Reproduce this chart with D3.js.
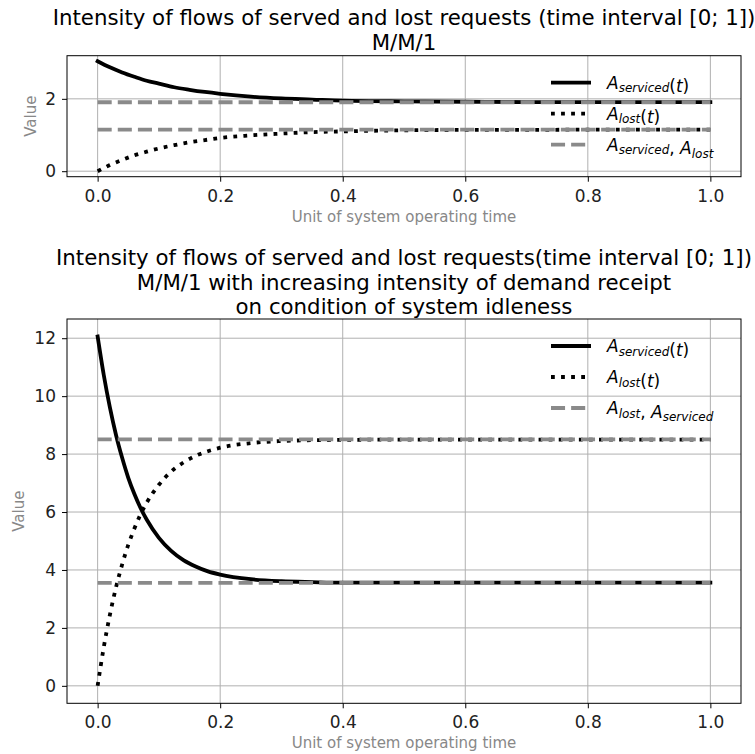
<!DOCTYPE html>
<html>
<head>
  <meta charset="utf-8">
  <title>Intensity of flows</title>
  <script src="https://cdn.jsdelivr.net/npm/d3@7"></script>
  <style>
    body { margin: 0; background: #fff; }
    svg { font-family: "DejaVu Sans", sans-serif; }
  </style>
</head>
<body>
  <div id="chart"></div>

  <script>
    // ---- data ----
    var tTop = [0, 0.02, 0.04, 0.06, 0.08, 0.1, 0.125, 0.15, 0.175, 0.2, 0.25, 0.3, 0.35, 0.4, 0.5, 0.6, 0.7, 0.8, 0.9, 1.0];
    var servedTop = [3.04, 2.87, 2.73, 2.61, 2.50, 2.42, 2.32, 2.25, 2.19, 2.14, 2.06, 2.01, 1.98, 1.95, 1.93, 1.92, 1.91, 1.91, 1.91, 1.91];
    var lostTop = [0, 0.17, 0.31, 0.44, 0.54, 0.63, 0.72, 0.80, 0.86, 0.92, 0.99, 1.04, 1.08, 1.10, 1.13, 1.14, 1.14, 1.15, 1.15, 1.15];
    var levelsTop = [1.906, 1.147];   // A_serviced, A_lost

    var tBottom = [0, 0.01, 0.02, 0.03, 0.04, 0.05, 0.06, 0.07, 0.08, 0.1, 0.12, 0.14, 0.16, 0.18, 0.2, 0.25, 0.3, 0.35, 0.4, 0.5, 0.6, 0.8, 1.0];
    var servedBottom = [12.06, 10.73, 9.61, 8.66, 7.87, 7.18, 6.62, 6.14, 5.74, 5.11, 4.66, 4.34, 4.12, 3.95, 3.84, 3.68, 3.61, 3.58, 3.56, 3.56, 3.56, 3.56, 3.56];
    var lostBottom = [0, 1.33, 2.45, 3.40, 4.19, 4.87, 5.43, 5.92, 6.32, 6.94, 7.40, 7.71, 7.94, 8.10, 8.22, 8.38, 8.45, 8.48, 8.49, 8.50, 8.50, 8.50, 8.50];
    var levelsBottom = [8.507, 3.555]; // A_lost, A_serviced

    var xTicks = [0, 0.2, 0.4, 0.6, 0.8, 1.0];
    var yTicksTop = [0, 2];
    var yTicksBottom = [0, 2, 4, 6, 8, 10, 12];

    var titleTop = ["Intensity of flows of served and lost requests (time interval [0; 1])", "M/M/1"];
    var titleBottom = ["Intensity of flows of served and lost requests(time interval [0; 1])",
      "M/M/1 with increasing intensity of demand receipt", "on condition of system idleness"];

    // legend labels: [main, subscript] pairs and plain pieces
    var legendTop = [
      [["A", "serviced"], "(t)"],
      [["A", "lost"], "(t)"],
      [["A", "serviced"], ", ", ["A", "lost"]]
    ];
    var legendBottom = [
      [["A", "serviced"], "(t)"],
      [["A", "lost"], "(t)"],
      [["A", "lost"], ", ", ["A", "serviced"]]
    ];

    var xLabel = "Unit of system operating time";
    var yLabel = "Value";

    // ---- layout ----
    var W = 755, H = 754;
    var svg = d3.select("#chart").append("svg")
      .attr("width", W)
      .attr("height", H);

    var lw = 3.8;
    var dashGrey = "#8a8a8a";

    function drawPanel(p) {
      var g = svg.append("g");

      var x = d3.scaleLinear().domain([-0.05, 1.05]).range([p.left, p.right]);

      var all = p.served.concat(p.lost);
      var lo = d3.min(all), hi = d3.max(all);
      var pad = (hi - lo) * 0.05;
      var y = d3.scaleLinear().domain([lo - pad, hi + pad]).range([p.bottom, p.top]);

      // grid
      g.append("g").selectAll("line").data(xTicks).enter().append("line")
        .attr("x1", d => x(d)).attr("x2", d => x(d))
        .attr("y1", p.top).attr("y2", p.bottom)
        .attr("stroke", "#b0b0b0").attr("stroke-width", 1);
      g.append("g").selectAll("line").data(p.yTicks).enter().append("line")
        .attr("x1", p.left).attr("x2", p.right)
        .attr("y1", d => y(d)).attr("y2", d => y(d))
        .attr("stroke", "#b0b0b0").attr("stroke-width", 1);

      var line = d3.line()
        .x(d => x(d[0]))
        .y(d => y(d[1]))
        .curve(d3.curveMonotoneX);

      // A_serviced(t)
      g.append("path")
        .datum(p.t.map((d, i) => [d, p.served[i]]))
        .attr("d", line)
        .attr("fill", "none").attr("stroke", "#000")
        .attr("stroke-width", lw).attr("stroke-linecap", "square");

      // A_lost(t)
      g.append("path")
        .datum(p.t.map((d, i) => [d, p.lost[i]]))
        .attr("d", line)
        .attr("fill", "none").attr("stroke", "#000")
        .attr("stroke-width", lw).attr("stroke-dasharray", (lw * 1) + "," + (lw * 1.65));

      // stationary levels
      g.append("g").selectAll("line").data(p.levels).enter().append("line")
        .attr("x1", x(0)).attr("x2", x(1))
        .attr("y1", d => y(d)).attr("y2", d => y(d))
        .attr("stroke", dashGrey).attr("stroke-width", lw)
        .attr("stroke-dasharray", (lw * 3.7) + "," + (lw * 1.6));

      // frame
      g.append("rect")
        .attr("x", p.left).attr("y", p.top)
        .attr("width", p.right - p.left).attr("height", p.bottom - p.top)
        .attr("fill", "none").attr("stroke", "#000").attr("stroke-width", 1);

      // axes
      var xa = g.append("g")
        .attr("transform", "translate(0," + p.bottom + ")")
        .call(d3.axisBottom(x).tickValues(xTicks).tickFormat(d3.format(".1f")).tickSize(5).tickPadding(8));
      var ya = g.append("g")
        .attr("transform", "translate(" + p.left + ",0)")
        .call(d3.axisLeft(y).tickValues(p.yTicks).tickFormat(d3.format("d")).tickSize(5).tickPadding(6));
      [xa, ya].forEach(a => {
        a.select(".domain").remove();
        a.selectAll("line").attr("stroke", "#000");
        a.selectAll("text").attr("fill", "#222").style("font-size", "17px")
          .style("font-family", "DejaVu Sans");
      });

      // axis labels
      g.append("text")
        .attr("x", (p.left + p.right) / 2).attr("y", p.bottom + 45)
        .attr("text-anchor", "middle").attr("fill", "#888")
        .style("font-size", "15px").text(xLabel);
      g.append("text")
        .attr("transform", "translate(" + p.yLabelX + "," + (p.top + p.bottom) / 2 + ") rotate(-90)")
        .attr("text-anchor", "middle").attr("fill", "#888")
        .style("font-size", "15px").text(yLabel);

      // title
      g.append("g").selectAll("text").data(p.title).enter().append("text")
        .attr("x", (p.left + p.right) / 2)
        .attr("y", (d, i) => p.titleY + i * 24.5)
        .attr("text-anchor", "middle").attr("fill", "#000")
        .style("font-size", "21.3px").text(d => d);

      // legend
      var styles = [
        { dash: null, color: "#000" },
        { dash: (lw * 1) + "," + (lw * 1.65), color: "#000" },
        { dash: (lw * 3.7) + "," + (lw * 1.6), color: dashGrey }
      ];
      p.legend.forEach((parts, i) => {
        var ly = p.top + 27 + i * 31;
        var hx = p.right - 190;
        g.append("line")
          .attr("x1", hx).attr("x2", hx + 40)
          .attr("y1", ly).attr("y2", ly)
          .attr("stroke", styles[i].color).attr("stroke-width", lw)
          .attr("stroke-dasharray", styles[i].dash);
        var txt = g.append("text")
          .attr("x", hx + 56).attr("y", ly + 6)
          .style("font-size", "17px").attr("fill", "#000");
        parts.forEach(part => {
          if (Array.isArray(part)) {
            txt.append("tspan").style("font-style", "italic").text(part[0]);
            txt.append("tspan").style("font-style", "italic").style("font-size", "12px")
              .attr("dy", 3.5).text(part[1]);
            txt.append("tspan").attr("dy", -3.5).text("");
          } else {
            var m = part.match(/^\((.*)\)$/);
            if (m) {
              txt.append("tspan").text("(");
              txt.append("tspan").style("font-style", "italic").text(m[1]);
              txt.append("tspan").text(")");
            } else {
              txt.append("tspan").text(part);
            }
          }
        });
      });
    }

    drawPanel({
      left: 67, right: 741, top: 55.7, bottom: 176.7,
      t: tTop, served: servedTop, lost: lostTop, levels: levelsTop,
      yTicks: yTicksTop, title: titleTop, titleY: 25, yLabelX: 35.5,
      legend: legendTop
    });

    drawPanel({
      left: 67, right: 741, top: 319, bottom: 703.3,
      t: tBottom, served: servedBottom, lost: lostBottom, levels: levelsBottom,
      yTicks: yTicksBottom, title: titleBottom, titleY: 265, yLabelX: 24,
      legend: legendBottom
    });
  </script>
</body>
</html>
